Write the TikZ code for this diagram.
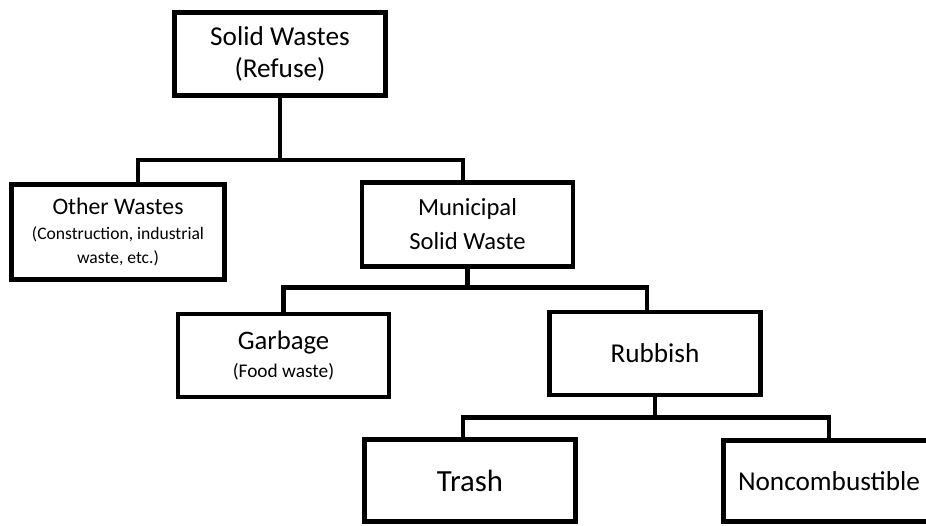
\documentclass[tikz,border=0pt]{standalone}
\usepackage{fontspec}
\setmainfont{Carlito}
\usepackage{tikz}
\usetikzlibrary{positioning}
\newcommand{\notesize}{\fontsize{10}{11.5}\selectfont}

\begin{document}
\begin{tikzpicture}[
    box/.style={rectangle, draw=black, line width=2.7pt, fill=white,
                minimum width=4.22cm, minimum height=1.66cm, align=center,
                inner sep=2pt, font=\fontsize{15.5}{18.5}\selectfont},
    link/.style={draw=black, line width=2.7pt},
    node distance=0.8cm
]
    \useasboundingbox (-5.6,1.08) rectangle (12.92,-9.42);

    % Top level
    \node[box] (sw) at (0,0) {Solid Wastes\\(Refuse)};

    % Second level
    \node[box, below=1.68cm of sw, xshift=-3.24cm, minimum width=4.26cm,
          minimum height=1.9cm, font=\fontsize{13.5}{13.5}\selectfont] (other)
          {Other Wastes\\[1pt]\notesize (Construction, industrial\\\notesize waste, etc.)};
    \node[box, below=1.64cm of sw, xshift=3.75cm, minimum height=1.68cm,
          font=\fontsize{14}{19.5}\selectfont] (msw) {Municipal\\Solid Waste};

    % Third level
    \node[box, below=0.86cm of msw, xshift=-3.68cm, font=\fontsize{15.2}{16}\selectfont] (garb)
          {Garbage\\\fontsize{11}{14}\selectfont (Food waste)};
    \node[box, below=0.82cm of msw, xshift=3.75cm] (rub) {Rubbish};

    % Fourth level
    \node[box, below=0.8cm of rub, xshift=-3.7cm, minimum height=1.63cm,
          font=\fontsize{17.5}{20}\selectfont] (trash) {Trash};
    \node[box, below=0.82cm of rub, xshift=3.48cm, minimum height=1.62cm] (nonc) {Noncombustible};

    % Junctions
    \coordinate (j1) at ([yshift=-1.24cm]sw.south);
    \coordinate (j2) at ([yshift=-0.38cm]msw.south);
    \coordinate (j3) at ([yshift=-0.4cm]rub.south);

    % Connectors
    \draw[link] (sw.south) -- (j1);
    \draw[link] ([xshift=0.4cm]other.north) |- (j1) -| ([xshift=-0.09cm]msw.north);
    \draw[link] (msw.south) -- (j2);
    \draw[link] (garb.north) |- (j2) -| ([xshift=-0.16cm]rub.north);
    \draw[link] (rub.south) -- (j3);
    \draw[link] ([xshift=-0.14cm]trash.north) |- (j3) -| (nonc.north);
\end{tikzpicture}
\end{document}
